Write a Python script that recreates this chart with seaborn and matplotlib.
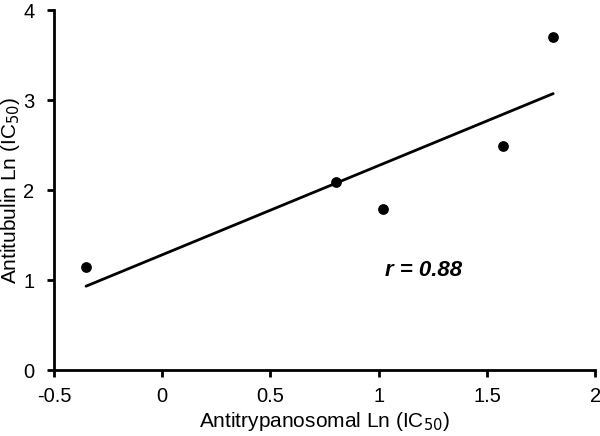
import matplotlib
matplotlib.use("Agg")
import matplotlib.pyplot as plt
import seaborn as sns
import pandas as pd

# values
antitryp = [-0.352, 0.803, 1.02, 1.573, 1.806]
antitub = [1.15, 2.085, 1.79, 2.49, 3.70]
r_label = "r = 0.88"

df = pd.DataFrame({"x": antitryp, "y": antitub})

sns.set_style("ticks")
plt.rcParams['font.family'] = ['Liberation Sans', 'DejaVu Sans']
plt.rcParams['text.color'] = 'black'
plt.rcParams['axes.labelcolor'] = 'black'
plt.rcParams['xtick.color'] = 'black'
plt.rcParams['ytick.color'] = 'black'
plt.rcParams['axes.edgecolor'] = 'black'

fig = plt.figure(figsize=(6, 4.36), dpi=100)
ax = fig.add_axes([0.09, 0.151, 0.902, 0.826])

sns.regplot(data=df, x="x", y="y", ci=None, truncate=True, ax=ax,
            scatter_kws={"s": 60, "color": "black", "linewidths": 0, "alpha": 1},
            line_kws={"color": "black", "lw": 2})

ax.set_xlim(-0.5, 2)
ax.set_ylim(0, 4)
ax.set_xticks([-0.5, 0, 0.5, 1, 1.5, 2])
ax.set_xticklabels(["-0.5", "0", "0.5", "1", "1.5", "2"])
ax.set_yticks([0, 1, 2, 3, 4])
ax.tick_params(labelsize=14.5, width=2, length=5)
ax.tick_params(axis="x", pad=7)
ax.tick_params(axis="y", pad=9)
for s in ["left", "bottom"]:
    ax.spines[s].set_linewidth(2)
sns.despine(ax=ax)

ax.set_xlabel("Antitrypanosomal Ln (IC$_{50}$)", fontsize=15, labelpad=3)
ax.set_ylabel("Antitubulin Ln (IC$_{50}$)", fontsize=15, labelpad=1)
ax.text(1.205, 1.11, r_label, fontsize=16, fontweight="bold", fontstyle="italic",
        ha="center", va="center")

fig.savefig("out.png", dpi=100)
